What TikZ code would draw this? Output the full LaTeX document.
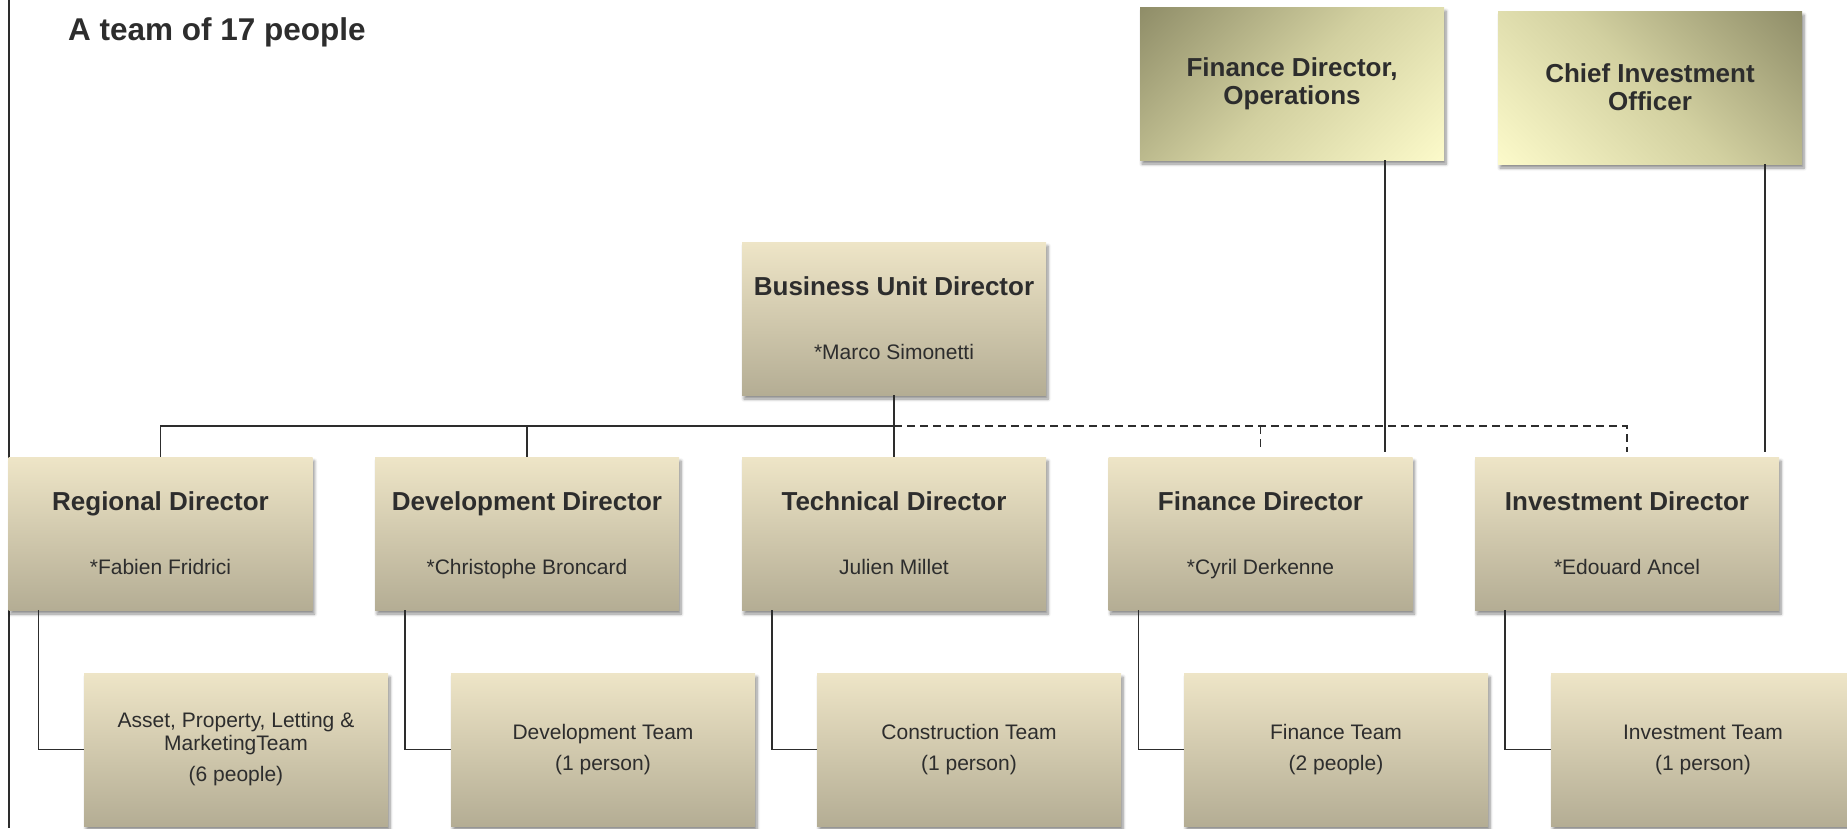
\documentclass[tikz,border=0pt]{standalone}
\usepackage{fontspec}
\setmainfont{Liberation Sans}
\usetikzlibrary{calc,shadows.blur}
\definecolor{ink}{RGB}{45,45,45}
\definecolor{creamtop}{RGB}{238,229,199}
\definecolor{creambot}{RGB}{180,173,148}
\definecolor{olive}{RGB}{143,141,104}
\definecolor{headmid}{RGB}{210,208,160}
\definecolor{paleyellow}{RGB}{252,250,202}
% corner to corner fade for the group heads
\pgfdeclareverticalshading{headfade}{100bp}{color(0bp)=(paleyellow); color(14.6bp)=(paleyellow);
    color(50bp)=(headmid); color(85.4bp)=(olive); color(100bp)=(olive)}
\newcommand\who[1]{{\mdseries\fontsize{21}{25}\selectfont\raisebox{0pt}[\height][0pt]{#1}}}
\begin{document}
\begin{tikzpicture}[x=1pt,y=-1pt,
    role_node/.style={rectangle,minimum width=304pt,minimum height=153pt,inner sep=0pt,
        top color=creamtop,bottom color=creambot,text=ink,align=center,
        blur shadow={shadow xshift=2pt,shadow yshift=-4pt,shadow blur steps=6,shadow blur radius=3pt,shadow opacity=45},
        font=\fontsize{26}{64}\selectfont\bfseries},
    team_node/.style={role_node,font=\fontsize{21}{23}\selectfont},
    head_node/.style={role_node,font=\fontsize{26}{28}\selectfont\bfseries,
        shading=headfade,shading angle=45},
    wire/.style={draw=ink,line width=1.6pt},
    dashwire/.style={wire,dash pattern=on 8pt off 5pt}]
    \useasboundingbox (0,0) rectangle (1847,828);
    \draw[ink,line width=1.4pt] (9,0) -- (9,828);
    \node[anchor=base west,inner sep=0pt,text=ink,font=\fontsize{31.5}{36}\selectfont\bfseries] (title) at (68,40) {A team of 17 people};

    % group heads
    \node[head_node] (fdo) at (1292,83.5) {Finance Director,\\Operations};
    \node[head_node,shading angle=-45] (cio) at (1650,87.5) {Chief Investment\\Officer};

    % business unit
    \node[role_node] (bu) at (894,318.5) {Business Unit Director\\\who{*Marco Simonetti}};

    \node[role_node] (reg) at (160.5,533.5) {Regional Director\\\who{*Fabien Fridrici}};
    \node[role_node] (dev) at (527,533.5) {Development Director\\\who{*Christophe Broncard}};
    \node[role_node] (tec) at (894,533.5) {Technical Director\\\who{Julien Millet}};
    \node[role_node] (fin) at (1260.5,533.5) {Finance Director\\\who{*Cyril Derkenne}};
    \node[role_node] (inv) at (1627,533.5) {Investment Director\\\who{*Edouard Ancel}};

    \node[team_node] (ast) at (236,749.5) {Asset, Property, Letting \&\\MarketingTeam\\[8pt](6 people)};
    \node[team_node] (dvt) at (603,749.5) {Development Team\\[8pt](1 person)};
    \node[team_node] (con) at (969,749.5) {Construction Team\\[8pt](1 person)};
    \node[team_node] (fnt) at (1336,749.5) {Finance Team\\[8pt](2 people)};
    \node[team_node] (ivt) at (1703,749.5) {Investment Team\\[8pt](1 person)};

    % reporting lines
    \coordinate (bus) at ($(bu.south)!.5!(tec.north)$);
    \draw[wire] (bu.south) -- (tec.north);
    \draw[wire] (reg.north) |- (bus);
    \draw[wire] (dev.north) -- (dev.north |- bus);
    \draw[dashwire,shorten >=5pt] (bus) -| (inv.north);
    \draw[dashwire,shorten >=5pt] (fin.north |- bus) -- (fin.north);
    \draw[wire,shorten >=5pt] ([xshift=93pt]fdo.south) -- ([xshift=93pt]fdo.south |- fin.north);
    \draw[wire,shorten >=5pt] ([xshift=115pt]cio.south) -- ([xshift=115pt]cio.south |- inv.north);

    \draw[wire] ([xshift=-122pt]reg.south) |- (ast.west);
    \draw[wire] ([xshift=-122pt]dev.south) |- (dvt.west);
    \draw[wire] ([xshift=-122pt]tec.south) |- (con.west);
    \draw[wire] ([xshift=-122pt]fin.south) |- (fnt.west);
    \draw[wire] ([xshift=-122pt]inv.south) |- (ivt.west);
\end{tikzpicture}
\end{document}
